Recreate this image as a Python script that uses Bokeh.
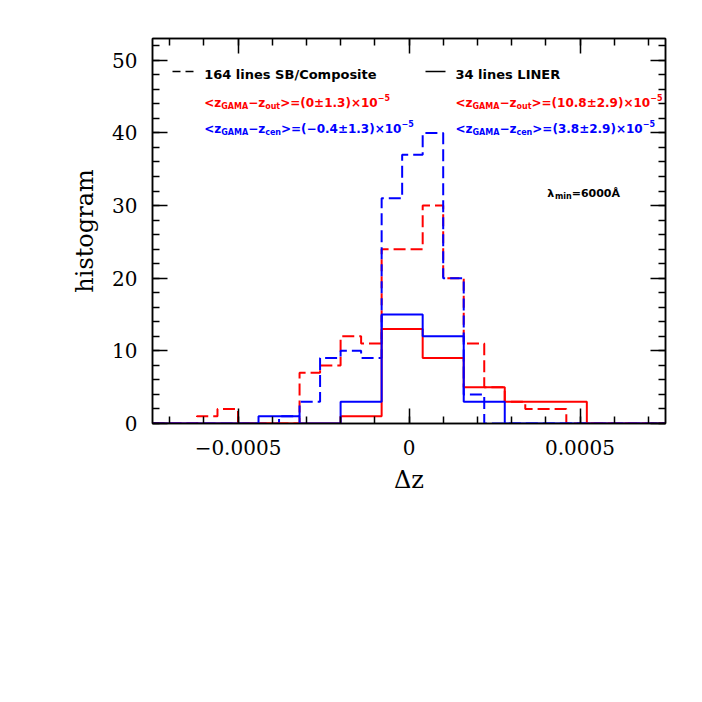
from bokeh.plotting import figure
from bokeh.models import LinearAxis, FixedTicker, CustomJSTickFormatter, Range1d
from bokeh.core.properties import value
from bokeh.embed import file_html
from bokeh.resources import INLINE

# ---------------- data ----------------
# 164 lines SB/Composite : bins of width 6e-5 (left edges)
sb_bin_lo = [-0.00062, -0.00056, -0.00050, -0.00044, -0.00038, -0.00032, -0.00026,
             -0.00020, -0.00014, -0.00008, -0.00002, 0.00004, 0.00010, 0.00016,
             0.00022, 0.00028, 0.00034, 0.00040]
sb_out = [1, 2, 0, 0, 0, 7, 8, 12, 11, 24, 24, 30, 20, 11, 5, 3, 2, 2]
sb_cen = [0, 0, 0, 0, 1, 3, 9, 10, 9, 31, 37, 40, 20, 4, 0, 0, 0, 0]
SB_WIDTH = 0.00006

# 34 lines LINER : bins of width 1.2e-4 (left edges)
liner_bin_lo = [-0.00044, -0.00032, -0.00020, -0.00008, 0.00004, 0.00016, 0.00028, 0.00040]
liner_out = [0, 0, 1, 13, 9, 5, 3, 3]
liner_cen = [1, 0, 3, 15, 12, 3, 0, 0]
LINER_WIDTH = 0.00012

x_major = [-0.0005, 0.0, 0.0005]
x_minor = [-0.0007, -0.0006, -0.0005, -0.0004, -0.0003, -0.0002, -0.0001, 0.0,
           0.0001, 0.0002, 0.0003, 0.0004, 0.0005, 0.0006, 0.0007]
y_major = [0, 10, 20, 30, 40, 50]
y_minor = [0, 2, 4, 6, 8, 10, 12, 14, 16, 18, 20, 22, 24, 26, 28, 30, 32, 34, 36,
           38, 40, 42, 44, 46, 48, 50, 52]
XMIN, XMAX = -0.00075, 0.00075
YMIN, YMAX = 0, 53

legend_sb = "164 lines SB/Composite"
legend_liner = "34 lines LINER"
sb_out_val = "(0\u00b11.3)"
sb_cen_val = "(\u22120.4\u00b11.3)"
liner_out_val = "(10.8\u00b12.9)"
liner_cen_val = "(3.8\u00b12.9)"

RED = "#ff0000"
BLUE = "#0000ff"

# ---------------- figure ----------------
W, H = 686, 680
FL, FT, FR_B = 152, 38, 21
FW, FH = W - FL - FR_B, 385

p = figure(width=W, height=H, output_backend="svg", toolbar_location=None,
           x_range=Range1d(XMIN, XMAX), y_range=Range1d(YMIN, YMAX),
           min_border_left=FL, min_border_top=FT, min_border_right=FR_B,
           min_border_bottom=H - FT - FH, x_axis_label="\u0394z", y_axis_label="histogram")
p.grid.visible = False
p.outline_line_color = "black"
p.outline_line_width = 1.5
p.background_fill_color = "white"
p.border_fill_color = "white"

fmt = CustomJSTickFormatter(code="return tick < 0 ? '\\u2212' + String(-tick) : String(tick);")
blank = CustomJSTickFormatter(code="return '';")
p.xaxis.ticker = FixedTicker(ticks=x_major, minor_ticks=x_minor)
p.xaxis.formatter = fmt
p.yaxis.ticker = FixedTicker(ticks=y_major, minor_ticks=y_minor)


def style_axis(ax, labels=True):
    ax.major_tick_in = 15
    ax.major_tick_out = 0
    ax.minor_tick_in = 7
    ax.minor_tick_out = 0
    ax.major_tick_line_width = 1.5
    ax.minor_tick_line_width = 1.5
    ax.axis_line_width = 1.5
    ax.major_tick_line_color = "black"
    ax.minor_tick_line_color = "black"
    ax.axis_line_color = "black"
    if labels:
        ax.major_label_text_font = "DejaVu Serif"
        ax.major_label_text_font_size = "20px"
        ax.major_label_text_color = "black"
        ax.axis_label_text_font = "DejaVu Serif"
        ax.axis_label_text_font_size = "24px"
        ax.axis_label_text_font_style = "normal"
        ax.axis_label_text_color = "black"
    else:
        ax.formatter = blank
        ax.major_label_text_font_size = "8px"
        ax.major_label_standoff = 0


style_axis(p.xaxis[0])
style_axis(p.yaxis[0])
p.xaxis.major_label_standoff = 16
p.xaxis.axis_label_standoff = 8
p.yaxis.major_label_standoff = 15
p.yaxis.axis_label_standoff = 10

top = LinearAxis(ticker=FixedTicker(ticks=x_major, minor_ticks=x_minor))
right = LinearAxis(ticker=FixedTicker(ticks=y_major, minor_ticks=y_minor))
style_axis(top, labels=False)
style_axis(right, labels=False)
p.add_layout(top, "above")
p.add_layout(right, "right")


# ---------------- histograms ----------------
def steps(lo, counts, width):
    xs, ys = [XMIN, lo[0]], [0, 0]
    for l, c in zip(lo, counts):
        xs += [l, l + width]
        ys += [c, c]
    xs += [lo[-1] + width, XMAX]
    ys += [0, 0]
    return xs, ys


DASH = "12 5"
xs, ys = steps(sb_bin_lo, sb_out, SB_WIDTH)
p.line(xs, ys, line_color=RED, line_width=2, line_dash=DASH)
xs, ys = steps(sb_bin_lo, sb_cen, SB_WIDTH)
p.line(xs, ys, line_color=BLUE, line_width=2, line_dash=DASH)
xs, ys = steps(liner_bin_lo, liner_out, LINER_WIDTH)
p.line(xs, ys, line_color=RED, line_width=2)
xs, ys = steps(liner_bin_lo, liner_cen, LINER_WIDTH)
p.line(xs, ys, line_color=BLUE, line_width=2)


# ---------------- annotations (pixel positions -> data) ----------------
def px2x(px):
    return XMIN + (px - FL) / FW * (XMAX - XMIN)


def py2y(py):
    return YMIN + (FT + FH - py) / FH * (YMAX - YMIN)


WID = {" ": 0.348, "(": 0.458, ")": 0.458, ".": 0.381, "<": 0.838, "=": 0.838,
       ">": 0.838, "\u00b1": 0.838, "\u00d7": 0.838, "\u2212": 0.838, "z": 0.580,
       "G": 0.821, "A": 0.774, "M": 0.995, "o": 0.687, "u": 0.712, "t": 0.478,
       "c": 0.592, "e": 0.678, "n": 0.712, "m": 1.042, "i": 0.343,
       "\u03bb": 0.70, "\u00c5": 0.774}


def tw(s, size):
    return sum(WID.get(ch, 0.696) for ch in s) * size


def rich(parts, px, py, color, main=12, small=8):
    off = 0.0
    for txt, kind in parts:
        size = main if kind == "n" else small
        yo = 0 if kind == "n" else (3.5 if kind == "b" else -5.5)
        p.text(x=[px2x(px)], y=[py2y(py)], text=[txt], x_offset=off, y_offset=yo,
               text_font_size=value("%dpx" % size), text_color=color,
               text_font=value("DejaVu Sans"), text_font_style="bold",
               text_baseline="alphabetic", text_align="left")
        off += tw(txt, size)


def eq(kind_sub, val):
    return [("<z", "n"), ("GAMA", "b"), ("\u2212z", "n"), (kind_sub, "b"),
            (">=" + val + "\u00d710", "n"), ("\u22125", "p")]


# legend samples
p.line([px2x(172), px2x(193)], [py2y(71)] * 2, line_color="black",
       line_width=1.5, line_dash="8 5")
p.line([px2x(425), px2x(445)], [py2y(71)] * 2, line_color="black", line_width=1.5)
rich([(legend_sb, "n")], 203.7, 77.5 - 3.5, "black", main=13)
rich([(legend_liner, "n")], 455, 77.5 - 3.5, "black", main=13)

rich(eq("out", sb_out_val), 203.7, 104.5 - 2.5, RED)
rich(eq("cen", sb_cen_val), 203.7, 131 - 2.5, BLUE)
rich(eq("out", liner_out_val), 455, 104.5 - 2.5, RED)
rich(eq("cen", liner_cen_val), 455, 131 - 2.5, BLUE)

rich([("\u03bb", "n"), ("min", "b"), ("=6000\u00c5", "n")], 546.7, 196.7 - 4, "black",
     main=11, small=8)

open("out.html", "w").write(file_html(p, INLINE))
